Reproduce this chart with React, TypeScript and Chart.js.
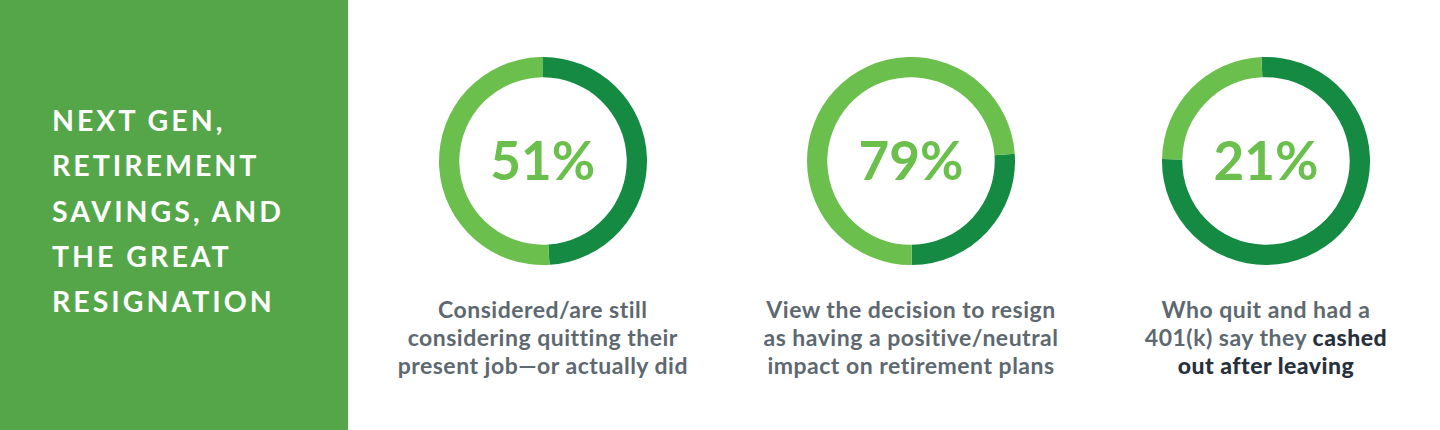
import React, { useEffect, useRef } from "react";
import { Chart, registerables } from "chart.js";

Chart.register(...registerables);

// ---- Data ----
const titleLines = ["NEXT GEN,", "RETIREMENT", "SAVINGS, AND", "THE GREAT", "RESIGNATION"];
const statLabels = ["51%", "79%", "21%"];
// Arc shares as drawn in the graphic (dark ring part, light ring part)
const darkShares = [49, 26, 76];
const lightShares = [51, 74, 24];
// Caption lines: each line is a list of [text, isBold]
const captions: [string, boolean][][][] = [
  [
    [["Considered/are still", false]],
    [["considering quitting their", false]],
    [["present job\u2014or actually did", false]],
  ],
  [
    [["View the decision to resign", false]],
    [["as having a positive/neutral", false]],
    [["impact on retirement plans", false]],
  ],
  [
    [["Who quit and had a", false]],
    [["401(k) say they ", false], ["cashed", true]],
    [["out after leaving", true]],
  ],
];

// ---- Style ----
const PANEL_GREEN = "#54a648";
const DARK_GREEN = "#148a42";
const LIGHT_GREEN = "#6bbf4c";
const TEXT_GRAY = "#5d6870";
const TEXT_DARK = "#28303c";
const FONT = "Lato, 'Noto Sans', sans-serif";

const centersX = [542.8, 911, 1266];
const centerY = 161;
const RADIUS = 104;
const rotations = [0, 86, -2.5];

function Donut({ i }: { i: number }) {
  const ref = useRef<HTMLCanvasElement | null>(null);
  useEffect(() => {
    if (!ref.current) return;
    const chart = new Chart(ref.current, {
      type: "doughnut",
      data: {
        labels: ["Other", statLabels[i]],
        datasets: [
          {
            data: [darkShares[i], lightShares[i]],
            backgroundColor: [DARK_GREEN, LIGHT_GREEN],
            borderWidth: 0,
          },
        ],
      },
      options: {
        responsive: false,
        maintainAspectRatio: false,
        animation: false,
        rotation: rotations[i],
        cutout: "80.5%",
        layout: { padding: 0 },
        plugins: {
          legend: { display: false },
          tooltip: { enabled: false },
        },
      },
    });
    return () => chart.destroy();
  }, [i]);

  const cx = centersX[i];
  return (
    <>
      <canvas
        ref={ref}
        width={RADIUS * 2}
        height={RADIUS * 2}
        style={{
          position: "absolute",
          left: cx - RADIUS,
          top: centerY - RADIUS,
          width: RADIUS * 2,
          height: RADIUS * 2,
        }}
      />
      <div
        style={{
          position: "absolute",
          left: cx - 120,
          width: 240,
          top: 133,
          textAlign: "center",
          fontFamily: FONT,
          fontWeight: 700,
          fontSize: 53,
          lineHeight: "53px",
          color: LIGHT_GREEN,
        }}
      >
        {statLabels[i]}
      </div>
      <div
        style={{
          position: "absolute",
          left: cx - 200,
          width: 400,
          top: 295,
          textAlign: "center",
          fontFamily: FONT,
          fontWeight: 700,
          fontSize: 23,
          lineHeight: "28px",
          letterSpacing: "0.5px",
          color: TEXT_GRAY,
        }}
      >
        {captions[i].map((line, li) => (
          <div key={li}>
            {line.map(([t, b], si) => (
              <span key={si} style={b ? { color: TEXT_DARK, fontWeight: 900 } : undefined}>
                {t}
              </span>
            ))}
          </div>
        ))}
      </div>
    </>
  );
}

export default function App() {
  return (
    <div
      style={{
        position: "absolute",
        left: 0,
        top: 0,
        width: 1440,
        height: 430,
        background: "#ffffff",
        overflow: "hidden",
      }}
    >
      <div
        style={{
          position: "absolute",
          left: 0,
          top: 0,
          width: 348,
          height: 430,
          background: PANEL_GREEN,
        }}
      />
      <div
        style={{
          position: "absolute",
          left: 52,
          top: 98,
          fontFamily: FONT,
          fontWeight: 700,
          fontSize: 28.5,
          lineHeight: "45.3px",
          letterSpacing: "3px",
          color: "#ffffff",
          whiteSpace: "nowrap",
        }}
      >
        {titleLines.map((l, k) => (
          <div key={k}>{l}</div>
        ))}
      </div>
      {[0, 1, 2].map((i) => (
        <Donut key={i} i={i} />
      ))}
    </div>
  );
}
